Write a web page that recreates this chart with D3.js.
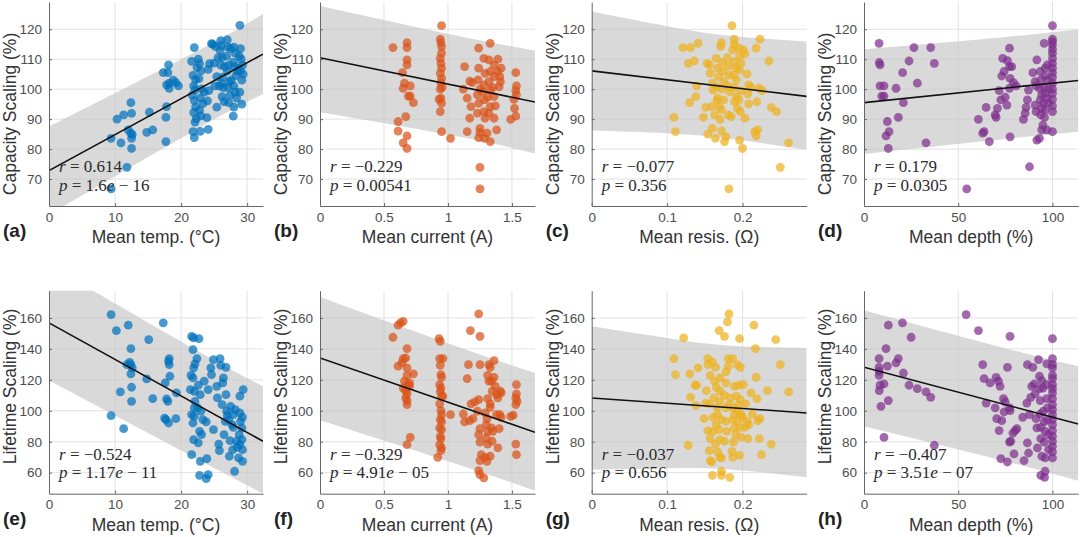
<!DOCTYPE html>
<html lang="en">
<head>
<meta charset="UTF-8">
<title>Capacity / lifetime scaling vs operating conditions</title>
<style>
  body{margin:0;background:#fff}
  svg{display:block;font-family:"Liberation Sans",Arial,sans-serif}
  .tick text{fill:#4d4d4d;font-size:13.5px}
  .tick line{stroke:#666}
  .domain{stroke:#666}
  .grid line{stroke:#e2e2e2;stroke-width:1}
  .lab{fill:#333;font-size:17.5px}
  .pan{fill:#222;font-size:19px;font-weight:bold}
  .stat{font-family:"Liberation Serif","Times New Roman",serif;font-size:17px;fill:#2a2a2a}
</style>
</head>
<body>
<svg id="fig" width="1080" height="537"></svg>
<script src="https://cdn.jsdelivr.net/npm/d3@7"></script>
<script>
// ---- data ----
const panelTags = ["(a)","(b)","(c)","(d)","(e)","(f)","(g)","(h)"];
const xTitles = ["Mean temp. (°C)","Mean current (A)","Mean resis. (Ω)","Mean depth (%)"];
const yTitles = ["Capacity Scaling (%)","Lifetime Scaling (%)"];
const xDomains = [[0,32.4],[0,1.68],[0,0.285],[0,113.7]];
const yDomains = [[61,129.1],[46.4,177.6]];
const xTickVals = [[0,10,20,30],[0,0.5,1,1.5],[0,0.1,0.2],[0,50,100]];
const yTickVals = [[70,80,90,100,110,120],[60,80,100,120,140,160]];
const rVals = ["0.614","−0.229","−0.077","0.179","−0.524","−0.329","−0.037","−0.407"];
const pMant = ["1.6","0.00541","0.356","0.0305","1.17","4.91","0.656","3.51"];
const pExp  = ["16",null,null,null,"11","05",null,"07"];
const colColors = ["#0072BD","#D95319","#EDB120","#7E2F8E"];

// regression line: y at both ends of the x domain
const fitEnds = [[72.8,111.7],[110.5,95.7],[106.1,97.6],[95.5,102.9],
                 [156.8,80.3],[134.1,86.1],[108.3,98.6],[128.1,91.5]];
// prediction band edges
const bandX  = [[0,23,32.4],[0,1.1,1.68],[0,0.1,0.18,0.285],[0,75,113.7],
                [0,23,32.4],[0,1.1,1.68],[0,0.1,0.18,0.285],[0,75,113.7]];
const bandUp = [[87.5,113.4,125.1],[127.8,117.6,112.9],[125.9,121.0,117.9,115.9],[113.3,117.4,120.0],
                [194.1,137.5,115.8],[173.6,140.7,124.4],[154.6,147.0,142.2,140.6],[165.0,140.4,128.8]];
const bandLo = [[58.1,87.4,98.3],[92.3,84.0,78.5],[86.2,85.3,83.5,79.8],[78.4,83.4,85.8],
                [119.5,67.5,46.5],[93.8,64.7,48.4],[61.9,62.9,62.2,57.0],[90.0,67.4,54.8]];

const capTemp = [
[9.4,66.7],[9.4,83.6],[10.3,90.0],[10.9,82.1],[11.3,91.4],[11.8,73.9],[12.0,86.4],[12.4,95.5],[12.5,91.9],[12.4,85.3],[12.5,83.6],[12.5,80.2],[12.6,84.8],
[14.8,85.6],[15.2,92.3],[15.7,86.4],
[17.3,105.5],[17.7,90.6],[17.7,82.5],[17.8,94.2],[18.0,105.5],[18.1,108.1],[18.2,102.0],[17.8,101.4],[18.2,100.3],[18.8,103.0],[19.2,102.2],[19.6,101.1],
[21.6,109.3],[21.8,104.6],[22.0,113.9],[21.9,101.1],[22.1,99.8],[21.7,98.0],[22.0,96.2],[22.2,94.1],[21.9,92.2],[22.3,90.2],[22.1,89.0],[21.8,85.8],[22.0,83.8],[22.4,107.2],[22.2,103.2],
[22.6,110.0],[22.8,108.5],[23.0,106.1],[22.7,103.5],[23.1,100.1],[22.9,97.1],[23.3,95.2],[22.8,93.0],[23.0,91.1],[22.9,85.9],[23.5,99.0],
[23.9,90.5],[24.0,96.1],[24.2,99.5],[24.1,106.6],[24.3,108.5],[24.6,115.2],[24.1,86.6],[24.8,115.0],
[25.2,114.2],[25.0,108.7],[25.4,104.2],[25.1,101.1],[25.4,94.0],[25.6,110.5],[25.8,101.0],
[26.0,116.2],[26.1,114.5],[25.9,113.0],[26.2,110.5],[26.0,108.0],[26.3,104.0],[26.1,102.0],[26.4,100.5],[26.2,97.5],[26.6,107.5],[26.5,95.8],
[27.0,116.5],[27.1,114.0],[26.9,111.0],[27.2,108.0],[27.0,106.0],[27.3,102.5],[27.1,100.5],[27.4,98.0],[27.2,95.5],[27.5,113.5],[27.6,103.0],
[28.0,114.0],[28.2,112.0],[27.9,109.0],[28.1,107.5],[28.3,104.5],[28.0,101.0],[28.2,99.0],[28.4,97.0],[28.0,94.0],[27.9,91.0],[28.5,106.0],
[28.9,121.3],[29.0,113.5],[28.8,111.0],[29.1,110.0],[29.3,108.0],[29.0,106.0],[29.4,105.0],[29.2,103.0],[28.9,99.0],[29.2,95.0],[28.7,107.0]
];
const capCurr = [
[0.57,113.9],
[0.61,89.2],[0.61,86.0],[0.645,105.5],[0.65,100.3],[0.66,102.0],[0.67,90.8],[0.65,82.1],[0.68,115.5],[0.68,113.9],[0.68,109.8],[0.68,108.1],[0.68,80.2],[0.68,84.4],[0.69,97.7],[0.705,101.1],[0.705,97.7],[0.73,95.5],
[0.95,121.2],[0.94,116.7],[0.945,115.5],[0.95,114.2],[0.95,112.0],[0.94,110.3],[0.945,108.6],[0.95,107.0],[0.94,105.3],[0.95,103.6],[0.945,102.0],[0.93,96.6],[0.945,97.0],[0.95,95.3],[0.94,92.5],[0.95,85.8],[0.94,100.0],[0.955,100.6],
[1.02,83.6],
[1.13,107.5],[1.12,100.0],[1.15,97.0],[1.15,85.8],[1.17,102.7],[1.17,90.3],[1.19,102.2],[1.18,94.2],
[1.24,113.7],[1.24,107.0],[1.235,103.1],[1.25,100.0],[1.23,98.1],[1.24,95.3],[1.23,92.0],[1.25,86.9],[1.25,85.5],[1.24,83.8],[1.25,73.9],[1.25,66.7],
[1.28,110.3],[1.29,105.3],[1.28,101.4],[1.27,99.2],[1.285,96.4],[1.28,92.5],[1.29,90.3],[1.285,83.6],
[1.32,109.8],[1.33,105.9],[1.32,102.5],[1.33,99.7],[1.31,97.3],[1.33,94.2],[1.32,92.0],[1.305,85.3],[1.33,82.5],
[1.33,115.3],[1.36,108.1],[1.36,104.2],[1.35,100.6],[1.36,97.5],[1.37,94.4],[1.36,90.3],
[1.39,105.9],[1.39,110.0],[1.40,100.8],[1.38,86.4],[1.41,102.5],[1.415,107.0],[1.405,104.2],
[1.49,89.9],[1.52,93.6],[1.53,105.5],[1.535,101.1],[1.53,99.5],[1.535,98.1],[1.515,96.6],[1.53,91.0]
];
const capRes = [
[0.109,90.6],[0.111,85.8],[0.121,113.9],[0.131,113.9],[0.128,108.6],[0.136,109.4],[0.141,115.3],[0.139,101.1],[0.138,97.5],[0.130,95.5],
[0.151,93.9],[0.148,90.6],[0.154,85.0],[0.153,108.6],[0.156,108.1],[0.157,105.3],[0.160,102.0],[0.161,99.7],[0.159,94.2],[0.160,86.9],[0.163,91.4],[0.164,83.6],
[0.165,110.3],[0.167,107.0],[0.168,104.2],[0.166,100.8],[0.167,97.0],[0.169,94.2],[0.170,89.9],[0.166,96.2],
[0.172,115.5],[0.171,114.2],[0.173,108.9],[0.174,105.9],[0.175,102.5],[0.173,100.0],[0.175,96.4],[0.172,93.1],[0.172,86.1],[0.178,84.1],[0.176,82.5],
[0.180,110.5],[0.181,107.8],[0.182,104.7],[0.181,101.1],[0.183,99.2],[0.181,91.4],[0.182,66.7],[0.185,90.8],
[0.186,121.2],[0.189,116.7],[0.189,115.0],[0.187,113.1],[0.189,109.2],[0.191,107.0],[0.188,104.7],[0.192,103.1],[0.189,100.6],[0.192,97.5],[0.189,95.8],[0.193,93.6],
[0.195,113.7],[0.196,111.1],[0.198,108.6],[0.196,106.4],[0.198,99.5],[0.195,96.4],[0.197,92.5],[0.196,83.0],[0.200,80.2],[0.201,113.1],[0.203,111.8],[0.203,90.3],
[0.206,105.1],[0.208,101.4],[0.207,98.4],[0.211,100.6],[0.208,95.1],[0.216,85.8],[0.218,113.7],[0.219,95.8],[0.220,86.4],[0.218,84.4],[0.223,116.7],[0.222,100.3],[0.226,99.5],
[0.235,109.4],[0.238,93.9],[0.245,92.5],[0.250,73.9],[0.261,82.1]
];
const capDepth = [
[8.0,115.3],[8.1,108.9],[8.5,108.1],[8.5,101.1],[9.4,97.7],[10.6,101.1],[10.6,97.7],[11.7,84.4],[12.4,89.2],[13.3,85.8],[12.9,80.2],
[17.0,100.3],[18.2,90.6],[20.5,105.5],[20.9,95.5],[23.9,109.4],[26.5,113.9],[28.3,102.0],[32.9,82.1],[35.4,113.9],[37.3,108.6],
[54.5,66.7],[60.7,89.9],[63.0,85.3],[63.7,85.8],[64.8,93.9],[66.5,82.5],
[69.6,91.4],[70.1,90.6],[70.8,93.6],[71.7,99.5],[72.6,96.4],[73.1,104.4],[73.6,110.3],[74.3,105.9],[74.9,97.3],[75.8,94.7],[76.1,109.5],[77.2,113.7],[77.2,107.5],[77.5,103.6],[77.2,100.3],[77.5,84.1],[79.3,102.2],[80.7,101.1],[78.4,107.5],
[87.3,99.7],[86.7,96.4],[86.0,93.9],[85.5,92.0],[84.6,89.9],[87.8,74.1],
[89.6,105.5],[90.8,102.5],[91.3,101.1],[91.7,109.8],[90.8,94.7],[91.3,92.5],[91.7,83.0],[93.1,83.6],
[93.5,105.9],[93.8,103.1],[93.1,100.3],[94.3,98.1],[93.5,96.4],[94.3,93.6],[93.8,91.4],[94.3,86.4],[94.9,88.0],
[95.6,115.3],[96.1,107.0],[96.1,104.4],[95.6,100.6],[96.1,98.6],[95.2,95.3],[96.1,93.1],[95.8,90.6],[97.0,86.4],[97.3,108.1],[97.3,103.1],[97.9,100.0],[97.3,97.0],[97.9,95.3],
[100,121.2],[100,116.7],[100,115.9],[100,114.8],[100,113.3],[100,112.0],[100,110.3],[100,108.6],[100,107.0],[100,105.5],[100,104.0],[100,102.0],[100,100.0],[100,98.6],[100,96.6],[100,94.4],[100,92.5],[100,85.8]
];
const lifeTemp = [
[9.4,96.9],[9.4,162.2],[10.2,151.8],[10.8,112.2],[11.3,88.4],[12.0,155.3],[12.4,140.2],[11.8,129.8],[12.4,129.8],[12.6,127.7],[12.4,123.8],[12.5,115.2],[12.5,106.1],[12.2,131.3],
[15.1,146.0],[14.8,120.6],[15.7,107.8],[17.3,156.8],[17.6,118.0],[17.5,95.3],[17.7,94.3],[17.8,107.6],[18.0,106.1],[18.1,92.1],[18.2,133.7],[18.1,132.0],[18.2,129.8],[18.3,122.3],[19.2,94.9],[19.3,111.5],
[21.6,148.1],[21.9,147.1],[21.8,139.5],[21.5,122.9],[21.8,121.2],[21.4,113.7],[22.0,112.6],[21.9,127.7],[22.1,130.3],[21.6,97.5],[22.0,96.4],[21.8,92.1],[21.9,81.3],[21.6,71.6],[22.1,106.1],[22.0,101.8],
[22.7,146.6],[22.4,133.7],[22.6,116.5],[22.9,110.4],[22.5,101.8],[23.0,99.7],[22.8,86.7],[23.1,84.6],[22.6,79.2],[22.9,67.3],[22.8,58.3],[23.3,94.3],[23.5,119.1],
[23.8,92.8],[23.9,69.0],[23.8,56.1],[24.1,58.7],[24.1,113.7],[24.5,127.7],[24.9,133.1],[24.6,123.4],[24.9,87.8],
[25.4,115.8],[25.5,108.3],[25.7,78.5],[25.8,74.2],[25.9,133.7],[26.0,129.4],[26.2,104.0],[26.3,118.0],[26.4,121.2],[26.5,84.6],[26.7,93.2],[26.8,128.1],[26.8,110.4],
[26.9,99.7],[27.0,97.1],[27.2,94.3],[27.3,70.6],[27.4,80.7],[27.5,102.8],[27.7,91.0],[27.8,74.8],[27.9,89.3],[28.1,60.9],[27.9,97.5],[28.2,100.7],
[28.4,80.3],[28.5,76.4],[28.7,69.5],[28.8,84.6],[28.9,109.4],[28.9,98.6],[29.0,93.2],[29.2,88.9],[29.2,81.3],[29.3,74.8],[29.3,67.3],[29.4,113.7],[29.3,95.8],[28.9,78.1]
];
const lifeCurr = [
[0.57,147.5],[0.61,155.3],[0.63,156.8],[0.65,157.8],[0.61,128.8],[0.64,130.9],[0.65,133.7],[0.67,134.1],[0.68,140.2],[0.68,127.7],[0.68,122.9],[0.66,119.1],[0.65,114.7],[0.67,113.0],[0.68,110.9],[0.67,108.3],[0.68,106.6],[0.68,104.0],[0.69,116.9],[0.70,118.0],[0.705,82.8],[0.68,78.1],[0.73,123.8],[0.70,115.8],
[0.93,146.6],[0.94,144.9],[0.935,133.7],[0.96,133.7],[0.94,129.4],[0.945,123.4],[0.95,121.6],[0.935,116.9],[0.945,114.7],[0.94,112.2],[0.95,109.4],[0.935,104.4],[0.945,100.1],[0.95,97.5],[0.94,94.3],[0.95,92.8],[0.935,88.9],[0.95,87.8],[0.94,83.5],[0.945,82.0],[0.935,78.1],[0.95,76.0],[0.945,74.2],[0.92,69.9],[0.96,109.4],
[1.02,97.5],
[1.12,97.9],[1.13,92.8],[1.15,120.8],[1.16,129.8],[1.17,93.6],[1.175,151.8],[1.18,104.4],[1.195,94.9],[1.21,105.7],
[1.24,162.6],[1.25,148.1],[1.25,129.8],[1.24,107.2],[1.23,99.7],[1.25,88.4],[1.24,84.6],[1.25,79.8],[1.26,71.6],[1.25,67.8],[1.24,61.3],[1.25,58.7],[1.28,56.6],
[1.29,98.6],[1.305,94.9],[1.30,91.0],[1.31,86.7],[1.30,82.4],[1.31,78.5],[1.29,69.9],[1.305,67.3],[1.32,129.8],[1.33,128.1],[1.31,122.9],[1.32,119.1],[1.31,107.8],[1.33,104.4],[1.33,102.2],[1.345,112.6],[1.34,119.1],[1.33,70.6],[1.34,88.9],[1.35,86.7],[1.345,80.3],
[1.36,132.4],[1.36,121.6],[1.37,115.8],[1.38,110.4],[1.38,97.5],[1.39,108.3],[1.40,88.4],[1.39,76.0],[1.41,112.6],[1.415,111.5],[1.405,97.5],[1.415,95.8],
[1.49,96.4],[1.51,97.1],[1.535,116.9],[1.535,110.9],[1.53,108.3],[1.54,106.1],[1.53,104.0],[1.53,78.5],[1.535,71.6]
];
const lifeRes = [
[0.122,147.1],[0.109,133.7],[0.111,123.4],[0.128,77.7],[0.130,123.8],[0.131,108.7],[0.137,116.5],[0.139,116.5],[0.138,103.5],[0.141,127.7],
[0.149,94.9],[0.151,105.0],[0.152,113.0],[0.154,133.7],[0.154,129.8],[0.157,122.9],[0.156,104.4],[0.154,87.2],[0.157,82.0],[0.156,74.2],[0.157,67.8],[0.160,58.3],[0.160,131.6],[0.161,95.8],[0.162,108.3],[0.161,86.7],[0.159,66.9],
[0.163,119.1],[0.164,128.1],[0.165,115.2],[0.166,102.2],[0.167,97.5],[0.165,91.0],[0.164,78.5],[0.167,73.4],[0.169,151.8],[0.170,121.2],[0.170,112.6],[0.170,106.1],[0.172,94.3],[0.169,87.8],[0.170,81.3],[0.172,69.5],[0.172,60.9],[0.172,58.3],[0.170,69.9],
[0.176,148.1],[0.178,125.1],[0.178,118.0],[0.176,110.0],[0.178,101.8],[0.178,93.2],[0.179,86.7],[0.176,80.3],[0.180,157.4],[0.182,162.6],[0.181,133.7],[0.181,128.8],[0.183,57.0],[0.182,104.0],[0.184,108.3],
[0.187,133.7],[0.189,115.8],[0.188,101.8],[0.189,97.5],[0.187,94.3],[0.189,88.9],[0.191,84.6],[0.188,79.8],[0.186,73.8],[0.187,69.9],[0.193,129.8],[0.192,109.4],[0.194,99.7],[0.193,93.2],[0.194,103.5],
[0.196,146.6],[0.197,128.1],[0.195,116.5],[0.197,107.2],[0.198,97.5],[0.196,89.3],[0.198,82.8],[0.196,71.2],[0.200,95.8],[0.201,116.9],[0.203,89.3],[0.204,104.4],
[0.207,82.0],[0.206,93.2],[0.208,91.0],[0.211,111.5],[0.213,97.9],[0.215,155.3],[0.217,140.2],[0.218,121.6],[0.219,107.8],[0.220,93.6],[0.222,82.0],[0.223,94.9],[0.225,71.6],[0.233,113.0],[0.238,78.5],[0.244,146.0],[0.250,129.8],[0.261,112.2]
];
const lifeDepth = [
[8.0,133.7],[8.0,128.1],[8.1,125.5],[8.0,122.9],[8.1,113.0],[8.5,116.5],[9.0,102.9],[10.6,117.3],[10.6,82.8],[11.7,140.2],[12.4,128.8],[12.9,155.3],[12.9,106.6],[17.0,130.9],[18.2,133.7],[20.4,156.8],[20.9,124.4],[23.9,116.5],[25.0,147.5],[28.3,114.3],[32.9,112.2],[35.4,108.7],[37.3,77.7],
[54.2,162.2],[60.7,151.8],[63.0,129.8],[63.7,120.8],[64.8,105.0],[66.9,118.0],[69.6,101.8],[70.1,121.6],[70.4,94.9],[71.3,119.1],[71.7,87.2],[72.2,115.8],[72.6,69.0],[73.1,93.6],[74.0,107.8],[74.3,99.2],[74.9,105.7],[76.1,66.9],[76.1,128.1],[77.2,101.8],[77.2,79.8],[77.5,100.1],[77.5,148.1],[77.9,80.3],[79.0,85.6],[80.2,87.2],[81.1,88.4],[79.6,72.1],
[84.2,95.8],[84.9,67.8],[86.7,129.8],[86.4,105.0],[86.7,79.2],[87.3,72.7],[87.8,97.5],[88.5,108.7],[89.0,115.8],[89.6,128.1],
[90.3,117.3],[90.8,110.9],[91.3,94.9],[91.7,88.9],[92.0,76.0],[92.6,133.1],[93.1,122.3],[93.1,114.3],[93.5,106.6],[93.5,97.9],[93.8,89.3],[93.8,82.0],[94.3,70.6],[93.8,58.3],[94.3,119.5],[94.9,114.7],
[95.2,99.7],[95.6,92.8],[96.1,86.7],[95.6,79.8],[96.1,69.5],[96.1,60.9],[95.8,57.0],[97.0,116.9],[97.0,107.8],[97.3,101.8],[97.3,94.3],[97.9,84.6],[97.9,74.9],[97.0,130.3],
[100,146.6],[100,133.7],[100,129.8],[100,127.7],[100,122.9],[100,120.8],[100,116.9],[100,114.3],[100,111.5],[100,107.8],[100,104.0],[100,100.7],[100,97.5],[100,94.3],[100,91.0],[100,87.2],[100,83.5],[100,80.3],[100,77.0],[100,73.4],[100,69.5]
];
const panelPoints = [capTemp,capCurr,capRes,capDepth,lifeTemp,lifeCurr,lifeRes,lifeDepth];

// ---- layout (pixels) ----
const colLeft  = [49, 320, 591.7, 864],
      colRight = [263, 535, 806.7, 1078.3],
      rowTop   = [2, 290.7],
      rowBot   = [206, 493.7],
      yLabMid  = [114, 386.5];

const svg = d3.select("#fig");
const defs = svg.append("defs");

panelPoints.forEach((pts, i) => {
  const row = i < 4 ? 0 : 1, col = i % 4;
  const x = d3.scaleLinear().domain(xDomains[col]).range([colLeft[col], colRight[col]]);
  const y = d3.scaleLinear().domain(yDomains[row]).range([rowBot[row], rowTop[row]]);
  const g = svg.append("g");

  defs.append("clipPath").attr("id", "clip" + i).append("rect")
      .attr("x", colLeft[col]).attr("y", rowTop[row])
      .attr("width", colRight[col] - colLeft[col]).attr("height", rowBot[row] - rowTop[row]);

  /* grid */
  const grid = g.append("g").attr("class", "grid");
  grid.selectAll("line.v").data(xTickVals[col].filter(d => d > 0)).enter().append("line")
      .attr("x1", d => x(d)).attr("x2", d => x(d)).attr("y1", rowTop[row]).attr("y2", rowBot[row]);
  grid.selectAll("line.h").data(yTickVals[row]).enter().append("line")
      .attr("y1", d => y(d)).attr("y2", d => y(d)).attr("x1", colLeft[col]).attr("x2", colRight[col]);

  /* prediction band */
  const band = bandX[i].map((bx, j) => ({x: bx, lo: bandLo[i][j], up: bandUp[i][j]}));
  g.append("path").datum(band)
   .attr("clip-path", `url(#clip${i})`)
   .attr("fill", "#c4c4c4").attr("fill-opacity", 0.65)
   .attr("d", d3.area().curve(d3.curveNatural)
      .x(d => x(d.x)).y0(d => y(d.lo)).y1(d => y(d.up)));

  /* points */
  g.append("g").selectAll("circle").data(pts).enter().append("circle")
   .attr("cx", d => x(d[0])).attr("cy", d => y(d[1])).attr("r", 4.4)
   .attr("fill", colColors[col]).attr("fill-opacity", 0.72);

  /* fit line */
  g.append("line").attr("clip-path", `url(#clip${i})`)
   .attr("x1", x(xDomains[col][0])).attr("y1", y(fitEnds[i][0]))
   .attr("x2", x(xDomains[col][1])).attr("y2", y(fitEnds[i][1]))
   .attr("stroke", "#111").attr("stroke-width", 1.6);

  /* axes */
  g.append("g").attr("transform", `translate(0,${rowBot[row]})`)
   .call(d3.axisBottom(x).tickValues(xTickVals[col]).tickFormat(d => String(d))
          .tickSizeInner(-3).tickSizeOuter(0).tickPadding(6));
  g.append("g").attr("transform", `translate(${colLeft[col]},0)`)
   .call(d3.axisLeft(y).tickValues(yTickVals[row]).tickFormat(d => String(d))
          .tickSizeInner(-3).tickSizeOuter(0).tickPadding(7));

  /* labels */
  g.append("text").attr("class", "lab").attr("text-anchor", "middle")
   .attr("x", (colLeft[col] + colRight[col]) / 2).attr("y", rowBot[row] + 37)
   .text(xTitles[col]);
  g.append("text").attr("class", "lab").attr("text-anchor", "middle")
   .attr("transform", `translate(${colLeft[col] - 33},${yLabMid[row]}) rotate(-90)`)
   .text(yTitles[row]);
  g.append("text").attr("class", "pan")
   .attr("x", colLeft[col] - 46).attr("y", rowBot[row] + 31)
   .text(panelTags[i]);

  /* r / p annotation */
  const rt = g.append("text").attr("class", "stat")
   .attr("x", colLeft[col] + 10).attr("y", rowBot[row] - 34);
  rt.append("tspan").style("font-style", "italic").text("r");
  rt.append("tspan").text(" = " + rVals[i]);
  const pt = g.append("text").attr("class", "stat")
   .attr("x", colLeft[col] + 10).attr("y", rowBot[row] - 15.5);
  pt.append("tspan").style("font-style", "italic").text("p");
  pt.append("tspan").text(" = " + pMant[i]);
  if (pExp[i]) {
    pt.append("tspan").style("font-style", "italic").text("e");
    pt.append("tspan").text(" − " + pExp[i]);
  }
});
</script>
</body>
</html>
